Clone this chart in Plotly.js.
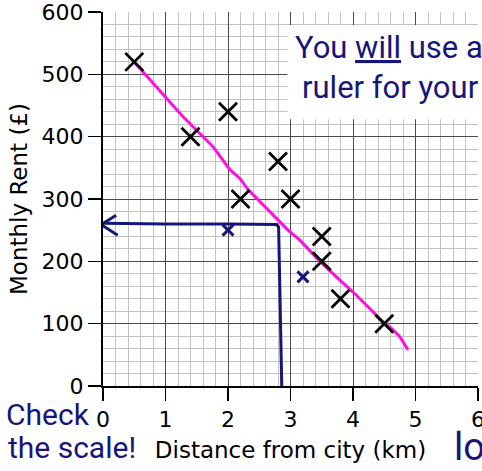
<!DOCTYPE html>
<html>
<head>
<meta charset="utf-8">
<script src="https://cdn.plot.ly/plotly-3.0.1.min.js"></script>
<style>html,body{margin:0;padding:0;background:#fff;overflow:hidden}#chart{width:482px;height:471px}</style>
</head>
<body>
<div id="chart"></div>
<script>
// Data points (black crosses)
const distanceKm = [0.5, 1.4, 2.0, 2.2, 2.8, 3.0, 3.5, 3.5, 3.8, 4.5];
const monthlyRent = [520, 400, 440, 300, 360, 300, 240, 200, 140, 100];

// Hand-drawn line of best fit (magenta)
const fitX = [0.47, 1.01, 1.28, 1.55, 1.76, 2.03, 2.19, 2.32, 2.83, 2.96, 3.15, 3.47, 3.79, 4.05, 4.48, 4.62, 4.75, 4.88];
const fitY = [523, 462, 432, 405, 384, 347, 333, 315, 264, 250, 234, 200, 170, 146, 103, 92, 79, 58];

// Hand-drawn reading lines (navy)
const readX = [2.86, 2.84, 2.83, 2.81, 2.78, 2.0, 1.0, 0.02];
const readY = [0, 100, 200, 255, 259, 260, 260, 261];
const arrowX = [0.21, -0.03, 0.235];
const arrowY = [274, 259, 242];

// Hand-drawn navy crosses
const penX = [2.0, 3.2];
const penY = [250, 175];

const navy = '#16167a';
const hand = 'Roboto, Noto Sans, sans-serif';
const axisFont = 'DejaVu Sans, Verdana, sans-serif';

const traces = [
  {x: fitX, y: fitY, mode: 'lines', line: {color: '#ff10e0', width: 3}, hoverinfo: 'skip'},
  {x: readX, y: readY, mode: 'lines', line: {color: navy, width: 3}, cliponaxis: false, hoverinfo: 'skip'},
  {x: arrowX, y: arrowY, mode: 'lines', line: {color: navy, width: 3}, cliponaxis: false, hoverinfo: 'skip'},
  {x: penX, y: penY, mode: 'markers', marker: {symbol: 'x-thin', size: 11, line: {color: navy, width: 3}}, hoverinfo: 'skip'},
  {x: distanceKm, y: monthlyRent, mode: 'markers', marker: {symbol: 'x-thin', size: 18, color: '#000', line: {color: '#000', width: 2.8}}}
];

const axisCommon = {
  showline: true, linecolor: '#000', linewidth: 2,
  ticks: 'outside', ticklen: 13, tickcolor: '#000', tickwidth: 1.5,
  showgrid: true, gridcolor: '#4a4a4a', gridwidth: 1,
  zeroline: false,
  ticklabeloverflow: 'allow',
  tickfont: {family: axisFont, size: 22, color: '#000'},
  fixedrange: true
};

const layout = {
  width: 482, height: 471,
  margin: {l: 103, r: 4, t: 12, b: 85},
  paper_bgcolor: '#fff', plot_bgcolor: '#fff',
  showlegend: false,
  xaxis: Object.assign({}, axisCommon, {
    range: [0, 6], dtick: 1, tick0: 0,
    minor: {dtick: 0.2, showgrid: true, gridcolor: '#c2c2c2', gridwidth: 1},
    title: {text: 'Distance from city (km)', font: {family: axisFont, size: 23, color: '#000'}, standoff: 10}
  }),
  yaxis: Object.assign({}, axisCommon, {
    range: [0, 600], dtick: 100, tick0: 0,
    minor: {dtick: 20, showgrid: true, gridcolor: '#c2c2c2', gridwidth: 1},
    title: {text: 'Monthly Rent (£)', font: {family: axisFont, size: 23, color: '#000'}, standoff: 8}
  }),
  shapes: [
    {type: 'rect', xref: 'x', yref: 'y', x0: 2.95, x1: 6.3, y0: 428, y1: 579, fillcolor: '#fff', line: {width: 0}, layer: 'between'}
  ],
  annotations: [
    {xref: 'paper', yref: 'paper', x: 0.506, y: 0.906, xanchor: 'left', yanchor: 'middle', showarrow: false,
     text: 'You <u>will</u> use a', font: {family: hand, size: 31, color: navy}},
    {xref: 'paper', yref: 'paper', x: 0.525, y: 0.797, xanchor: 'left', yanchor: 'middle', showarrow: false,
     text: 'ruler for your line', font: {family: hand, size: 31, color: navy}},
    {xref: 'paper', yref: 'paper', x: -0.265, y: -0.076, xanchor: 'left', yanchor: 'middle', showarrow: false,
     text: 'Check', font: {family: hand, size: 30, color: navy}},
    {xref: 'paper', yref: 'paper', x: -0.26, y: -0.164, xanchor: 'left', yanchor: 'middle', showarrow: false,
     text: 'the scale!', font: {family: hand, size: 30, color: navy}},
    {xref: 'paper', yref: 'paper', x: 0.93, y: -0.163, xanchor: 'left', yanchor: 'middle', showarrow: false,
     text: 'lol', font: {family: hand, size: 38, color: navy}}
  ]
};

Plotly.newPlot('chart', traces, layout, {displayModeBar: false, staticPlot: true});
</script>
</body>
</html>
